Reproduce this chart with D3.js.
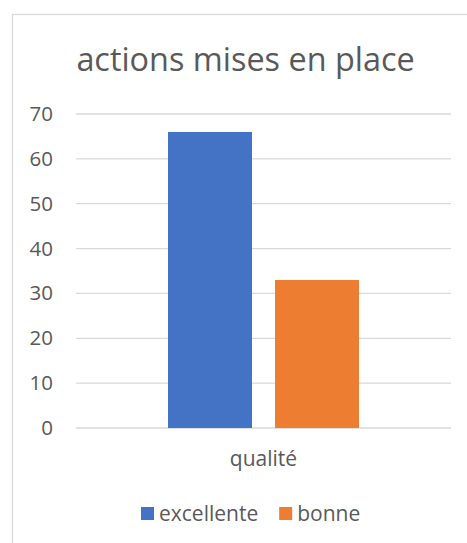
<!DOCTYPE html>
<html>
<head>
<meta charset="utf-8">
<script src="https://cdn.jsdelivr.net/npm/d3@7"></script>
<style>
  body { margin: 0; background: #fff; }
  text { font-family: "Open Sans", sans-serif; fill: #595959; }
</style>
</head>
<body>
<div id="viz"></div>
<script>
const title = "actions mises en place";
const categories = ["qualité"];
const seriesNames = ["excellente", "bonne"];
const seriesValues = [66, 33];
const seriesColors = ["#4472C4", "#ED7D31"];
const yTicks = [0, 10, 20, 30, 40, 50, 60, 70];

const W = 467, H = 543;
const plot = {left: 76, right: 451, top: 114, bottom: 428};

const svg = d3.select("#viz")
    .append("svg")
        .attr("width", W)
        .attr("height", H);

// chart frame
svg.append("rect")
    .attr("x", 12.5).attr("y", 14.5)
    .attr("width", W + 20).attr("height", H + 20)
    .attr("fill", "#fff")
    .attr("stroke", "#d9d9d9")
    .attr("stroke-width", 1.3);

svg.append("text")
    .attr("x", 245.5).attr("y", 71)
    .attr("text-anchor", "middle")
    .style("font-size", "32.4px")
    .text(title);

const y = d3.scaleLinear()
    .domain([0, 70])
    .range([plot.bottom, plot.top]);

const x0 = d3.scaleBand()
    .domain(categories)
    .range([plot.left, plot.right])
    .paddingInner(0)
    .paddingOuter(0.4817);

const x1 = d3.scaleBand()
    .domain(seriesNames)
    .range([0, x0.bandwidth()])
    .paddingInner(0.215);

// gridlines
svg.append("g")
    .selectAll("line")
    .data(yTicks)
    .enter()
    .append("line")
        .attr("x1", plot.left).attr("x2", plot.right)
        .attr("y1", d => y(d)).attr("y2", d => y(d))
        .attr("stroke", "#d9d9d9")
        .attr("stroke-width", 1.3);

// y axis labels
const yAxis = svg.append("g")
    .attr("transform", `translate(${plot.left - 23},0)`)
    .call(d3.axisLeft(y).tickValues(yTicks).tickSize(0).tickPadding(0));
yAxis.select(".domain").remove();
yAxis.selectAll("text")
    .style("font-size", "20.5px")
    .style("fill", "#595959")
    .style("font-family", "'Open Sans', sans-serif");

// bars
svg.append("g")
    .selectAll("rect")
    .data(seriesNames.map((s, i) => ({name: s, value: seriesValues[i], color: seriesColors[i]})))
    .enter()
    .append("rect")
        .attr("x", d => x0(categories[0]) + x1(d.name))
        .attr("width", x1.bandwidth())
        .attr("y", d => y(d.value))
        .attr("height", d => y(0) - y(d.value))
        .attr("fill", d => d.color);

// x axis label
const xAxis = svg.append("g")
    .attr("transform", `translate(0,${plot.bottom})`)
    .call(d3.axisBottom(x0).tickSize(0).tickPadding(23));
xAxis.select(".domain").remove();
xAxis.selectAll("text")
    .style("font-size", "21px")
    .style("fill", "#595959")
    .style("font-family", "'Open Sans', sans-serif");

// legend
const legend = svg.append("g");
let lx = 141;
seriesNames.forEach(function(s, i) {
    legend.append("rect")
        .attr("x", lx).attr("y", 507)
        .attr("width", 13).attr("height", 13)
        .attr("fill", seriesColors[i]);
    const t = legend.append("text")
        .attr("x", lx + 18).attr("y", 520.5)
        .style("font-size", "21px")
        .text(s);
    lx += 18 + t.node().getComputedTextLength() + 21;
});
</script>
</body>
</html>
